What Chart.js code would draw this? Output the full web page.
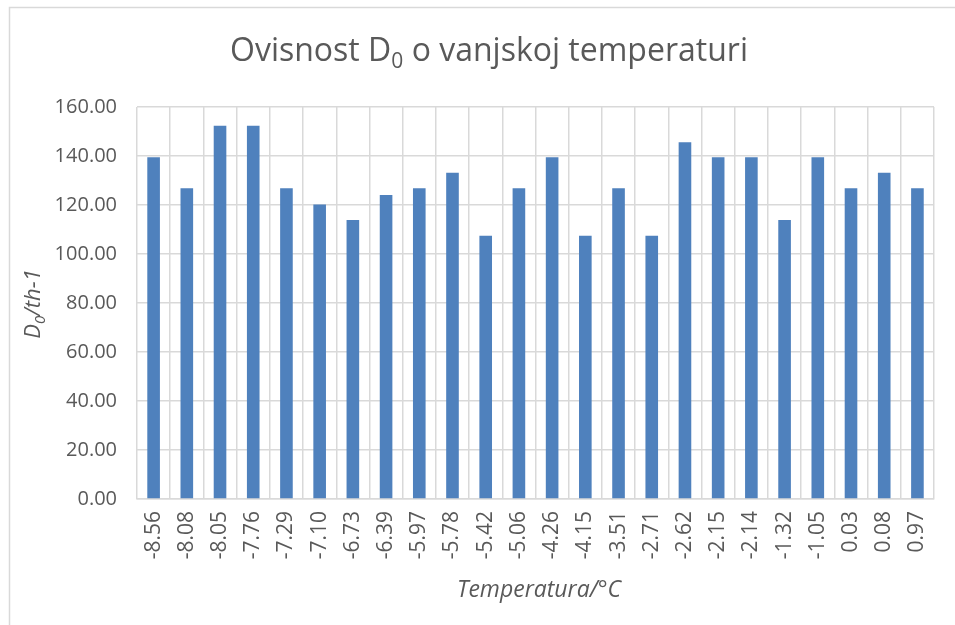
<!DOCTYPE html>
<html><head><meta charset="utf-8">
<script src="https://cdn.jsdelivr.net/npm/chart.js@4.4.1/dist/chart.umd.min.js"></script>
<style>html,body{margin:0;padding:0;background:#fff;overflow:hidden}</style>
</head><body>
<canvas id="c" width="955" height="625" style="width:955px;height:625px;display:block"></canvas>
<script>
const categories = ["-8.56","-8.08","-8.05","-7.76","-7.29","-7.10","-6.73","-6.39","-5.97","-5.78","-5.42","-5.06","-4.26","-4.15","-3.51","-2.71","-2.62","-2.15","-2.14","-1.32","-1.05","0.03","0.08","0.97"];
const values = [139.45,126.8,152.3,152.3,126.8,120.2,113.9,124.1,126.8,133.2,107.5,126.8,139.45,107.5,126.8,107.5,145.6,139.45,139.45,113.9,139.45,126.8,133.2,126.8];
const yTicks = [0,20,40,60,80,100,120,140,160];
const titleMain = "Ovisnost D";
const titleSub = "0";
const titleRest = " o vanjskoj temperaturi";
const yTitleMain = "D";
const yTitleSub = "0";
const yTitleRest = "/th-1";
const xTitle = "Temperatura/°C";

const FONT = "'Open Sans', 'Liberation Sans', sans-serif";
const GRID = "#D9D9D9";
const TXT = "#595959";

function drawSubText(ctx, parts, size, italic, cx, cy) {
  const st = italic ? "italic " : "";
  const subSize = Math.round(size * 0.66);
  ctx.font = st + size + "px " + FONT;
  const w1 = ctx.measureText(parts[0]).width;
  const w3 = ctx.measureText(parts[2]).width;
  ctx.font = st + subSize + "px " + FONT;
  const w2 = ctx.measureText(parts[1]).width;
  let x = cx - (w1 + w2 + w3) / 2;
  ctx.textBaseline = "middle";
  ctx.textAlign = "left";
  ctx.font = st + size + "px " + FONT;
  ctx.fillText(parts[0], x, cy); x += w1;
  ctx.font = st + subSize + "px " + FONT;
  ctx.fillText(parts[1], x, cy + size * 0.3); x += w2;
  ctx.font = st + size + "px " + FONT;
  ctx.fillText(parts[2], x, cy);
}

const decor = {
  id: "decor",
  beforeDraw(chart) {
    const ctx = chart.ctx;
    ctx.save();
    ctx.fillStyle = "#fff";
    ctx.fillRect(0, 0, chart.width, chart.height);
    ctx.strokeStyle = GRID;
    ctx.lineWidth = 1.5;
    ctx.strokeRect(9.5, 7.5, 1000, 700);
    ctx.restore();
  },
  afterDraw(chart) {
    const ctx = chart.ctx;
    ctx.save();
    ctx.fillStyle = TXT;
    drawSubText(ctx, [titleMain, titleSub, titleRest], 32, false, 489, 52);
    ctx.save();
    ctx.translate(34, 304);
    ctx.rotate(-Math.PI / 2);
    drawSubText(ctx, [yTitleMain, yTitleSub, yTitleRest], 22, true, 0, 0);
    ctx.restore();
    ctx.font = "italic 23px " + FONT;
    ctx.textAlign = "center";
    ctx.textBaseline = "middle";
    ctx.fillText(xTitle, 539, 590);
    ctx.restore();
  }
};

new Chart(document.getElementById("c"), {
  type: "bar",
  data: {
    labels: categories,
    datasets: [{
      data: values,
      backgroundColor: "#4F81BD",
      borderWidth: 0,
      categoryPercentage: 1,
      barPercentage: 0.38
    }]
  },
  options: {
    responsive: false,
    animation: false,
    devicePixelRatio: 1,
    layout: { padding: { left: 0, right: 18, top: 107, bottom: 0 } },
    plugins: { legend: { display: false }, title: { display: false }, tooltip: { enabled: false } },
    scales: {
      x: {
        offset: true,
        grid: { color: GRID, lineWidth: 1.5, offset: true, drawTicks: false },
        border: { color: GRID, width: 1.5 },
        ticks: {
          color: TXT, font: { family: FONT, size: 21 },
          minRotation: 90, maxRotation: 90, autoSkip: false, padding: 12
        },
        afterFit(s) { s.height = 126; }
      },
      y: {
        min: 0, max: 160,
        afterBuildTicks(s) { s.ticks = yTicks.map(v => ({ value: v })); },
        grid: { color: GRID, lineWidth: 1.5, drawTicks: false },
        border: { display: false },
        ticks: {
          color: TXT, font: { family: FONT, size: 20 }, padding: 20,
          callback: v => Number(v).toFixed(2)
        },
        afterFit(s) { s.width = 137; }
      }
    }
  },
  plugins: [decor]
});
</script>
</body></html>
